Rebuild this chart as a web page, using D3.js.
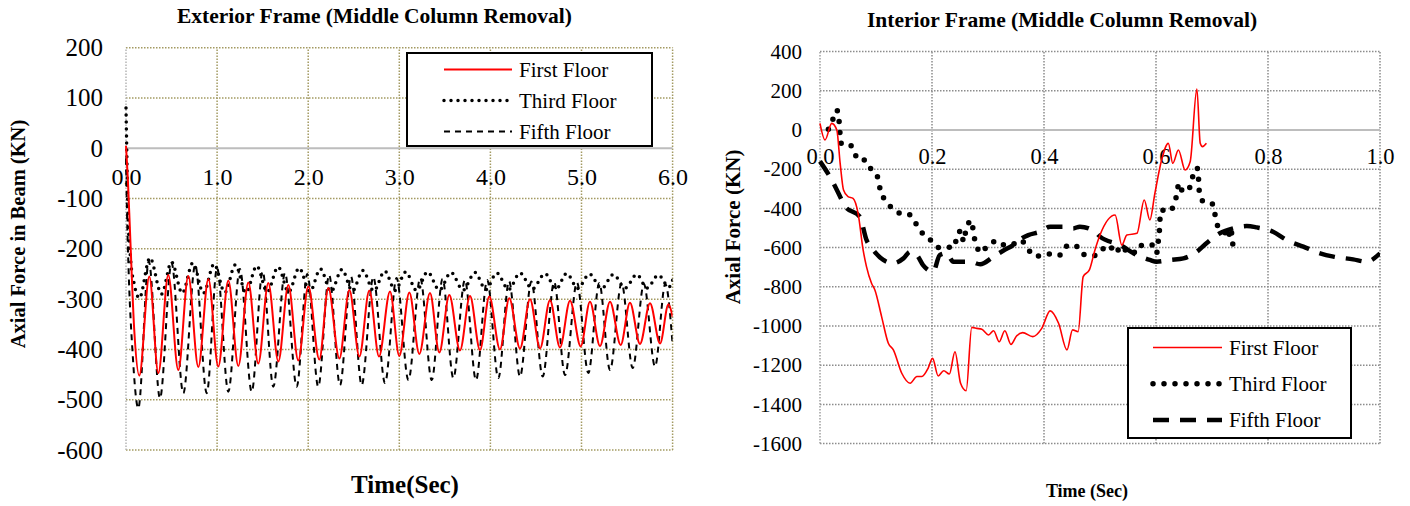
<!DOCTYPE html>
<html>
<head>
<meta charset="utf-8">
<script src="https://cdn.jsdelivr.net/npm/d3@7"></script>
<style>
  body { margin: 0; background: #fff; }
  svg text { font-family: "Liberation Serif", "Times New Roman", serif; fill: #000; }
</style>
</head>
<body>
<svg id="chart" width="1410" height="506"></svg>
<script>
// ---- left chart: exterior frame, [time (s), axial force (kN)] peaks and troughs ----
const extFirst = [[0,5],[0.02,-60],[0.045,-170],[0.09,-360],[0.146,-452],[0.256,-255],[0.355,-447],[0.464,-252],[0.574,-441],[0.684,-254],[0.794,-435],[0.904,-260],[1.013,-434],[1.123,-263],[1.233,-433],[1.343,-267],[1.452,-428],[1.562,-268],[1.672,-424],[1.782,-272],[1.891,-422],[2.001,-275],[2.122,-420],[2.221,-278],[2.342,-418],[2.452,-282],[2.562,-414],[2.671,-283],[2.777,-414],[2.898,-285],[3.0,-413],[3.11,-287],[3.22,-409],[3.337,-288],[3.439,-406],[3.549,-292],[3.666,-402],[3.776,-294],[3.886,-401],[3.988,-295],[4.105,-400],[4.207,-298],[4.325,-398],[4.435,-300],[4.545,-398],[4.654,-302],[4.764,-396],[4.874,-303],[4.991,-394],[5.093,-305],[5.203,-393],[5.313,-305],[5.43,-391],[5.532,-307],[5.642,-389],[5.752,-308],[5.862,-388],[5.955,-310],[6.0,-335]];

const extThird = [[0,80],[0.008,0],[0.02,-120],[0.05,-220],[0.09,-270],[0.146,-298],[0.263,-218],[0.39,-290],[0.5,-226],[0.617,-288],[0.734,-228],[0.85,-288],[0.967,-230],[1.085,-287],[1.2,-232],[1.318,-287],[1.435,-234],[1.55,-286],[1.67,-236],[1.785,-286],[1.9,-238],[2.018,-285],[2.135,-240],[2.25,-285],[2.37,-241],[2.485,-284],[2.6,-243],[2.72,-284],[2.84,-244],[2.955,-283],[3.07,-246],[3.19,-283],[3.31,-246],[3.44,-282],[3.567,-247],[3.7,-282],[3.83,-247],[3.95,-281],[4.07,-248],[4.2,-281],[4.325,-248],[4.46,-280],[4.6,-249],[4.72,-280],[4.837,-249],[4.96,-279],[5.086,-250],[5.22,-279],[5.35,-251],[5.48,-278],[5.606,-251],[5.72,-278],[5.843,-252],[5.96,-276],[6.0,-262]];

const extFifth = [[0,-20],[0.01,-120],[0.03,-250],[0.07,-400],[0.135,-517],[0.25,-225],[0.373,-497],[0.5,-228],[0.629,-487],[0.76,-232],[0.886,-487],[1.0,-238],[1.123,-484],[1.25,-240],[1.38,-484],[1.5,-245],[1.617,-474],[1.745,-248],[1.874,-474],[1.99,-250],[2.11,-474],[2.23,-252],[2.349,-471],[2.47,-255],[2.587,-471],[2.715,-256],[2.843,-467],[2.97,-258],[3.1,-461],[3.23,-258],[3.356,-461],[3.475,-260],[3.593,-457],[3.72,-262],[3.842,-461],[3.965,-262],[4.087,-457],[4.205,-264],[4.325,-454],[4.45,-265],[4.574,-454],[4.7,-266],[4.819,-451],[4.95,-267],[5.075,-447],[5.195,-268],[5.313,-441],[5.44,-268],[5.562,-437],[5.685,-270],[5.807,-434],[5.92,-270],[6.0,-390]];

const extXTicks = [0, 1, 2, 3, 4, 5, 6];
const extYTicks = [-600, -500, -400, -300, -200, -100, 0, 100, 200];

// ---- right chart: interior frame ----
const intFirst = [[0.0,34],[0.009,-51],[0.021,34],[0.03,0],[0.036,-170],[0.042,-306],[0.05,-340],[0.059,-349],[0.068,-425],[0.077,-612],[0.083,-697],[0.092,-782],[0.098,-816],[0.11,-952],[0.122,-1088],[0.131,-1122],[0.146,-1241],[0.161,-1292],[0.173,-1258],[0.182,-1258],[0.193,-1216],[0.201,-1165],[0.211,-1255],[0.221,-1228],[0.231,-1245],[0.241,-1131],[0.251,-1292],[0.261,-1330],[0.271,-1007],[0.28,-1012],[0.289,-1017],[0.301,-1046],[0.31,-1024],[0.32,-1080],[0.33,-1024],[0.341,-1094],[0.351,-1051],[0.362,-1034],[0.38,-1054],[0.396,-1012],[0.411,-923],[0.426,-986],[0.441,-1122],[0.451,-1020],[0.461,-1029],[0.47,-748],[0.481,-714],[0.491,-612],[0.5,-536],[0.527,-434],[0.539,-587],[0.548,-536],[0.566,-527],[0.579,-357],[0.589,-459],[0.598,-323],[0.61,-153],[0.622,-68],[0.63,-170],[0.64,-102],[0.652,-204],[0.661,-162],[0.673,209],[0.679,-68],[0.683,-85],[0.69,-68]];

const intThird = [[0.015,4],[0.023,55],[0.03,102],[0.034,47],[0.0375,-68],[0.05,-68],[0.06,-102],[0.068,-153],[0.08,-153],[0.092,-204],[0.104,-247],[0.107,-298],[0.114,-349],[0.125,-388],[0.14,-422],[0.158,-429],[0.17,-473],[0.182,-524],[0.196,-558],[0.21,-599],[0.226,-599],[0.241,-595],[0.244,-536],[0.253,-514],[0.256,-570],[0.262,-493],[0.271,-463],[0.274,-527],[0.279,-582],[0.286,-626],[0.301,-587],[0.316,-565],[0.33,-587],[0.345,-582],[0.357,-561],[0.384,-643],[0.402,-638],[0.417,-629],[0.429,-638],[0.441,-592],[0.455,-587],[0.469,-633],[0.48,-640],[0.492,-640],[0.503,-612],[0.515,-587],[0.529,-629],[0.536,-592],[0.545,-612],[0.558,-633],[0.57,-587],[0.583,-595],[0.594,-587],[0.601,-629],[0.604,-570],[0.606,-519],[0.607,-459],[0.61,-408],[0.619,-417],[0.632,-388],[0.637,-328],[0.641,-272],[0.648,-315],[0.658,-306],[0.664,-255],[0.67,-196],[0.674,-196],[0.676,-252],[0.677,-306],[0.683,-361],[0.699,-371],[0.705,-425],[0.708,-480],[0.721,-510],[0.729,-553],[0.733,-502],[0.738,-612]];

const intFifth = [[0,-160],[0.021,-255],[0.036,-340],[0.045,-391],[0.071,-442],[0.083,-561],[0.095,-612],[0.113,-663],[0.131,-680],[0.149,-655],[0.161,-621],[0.173,-638],[0.184,-689],[0.202,-723],[0.214,-638],[0.226,-629],[0.238,-672],[0.268,-672],[0.286,-685],[0.31,-646],[0.327,-616],[0.345,-587],[0.36,-553],[0.372,-536],[0.393,-519],[0.411,-493],[0.434,-493],[0.452,-502],[0.464,-493],[0.491,-519],[0.5,-544],[0.536,-587],[0.566,-638],[0.589,-663],[0.601,-672],[0.625,-663],[0.649,-655],[0.673,-621],[0.69,-578],[0.714,-527],[0.738,-502],[0.762,-490],[0.78,-497],[0.809,-519],[0.833,-561],[0.863,-595],[0.893,-629],[0.917,-646],[0.952,-660],[0.976,-672],[1.0,-629]];

const intXTicks = [0, 0.2, 0.4, 0.6, 0.8, 1.0];
const intYTicks = [-1600, -1400, -1200, -1000, -800, -600, -400, -200, 0, 200, 400];

const seriesNames = ['First Floor', 'Third Floor', 'Fifth Floor'];

const svg = d3.select('#chart');

function drawPanel(cfg) {
  const x = d3.scaleLinear().domain(cfg.xDomain).range(cfg.xRange);
  const y = d3.scaleLinear().domain(cfg.yDomain).range(cfg.yRange);
  const g = svg.append('g');

  // grid
  g.append('g').selectAll('line')
    .data(cfg.xTicks.slice(1))
    .join('line')
    .attr('x1', d => x(d)).attr('x2', d => x(d))
    .attr('y1', y(cfg.yDomain[0])).attr('y2', y(cfg.yDomain[1]))
    .attr('stroke', cfg.gridColor).attr('stroke-width', 1.5).attr('stroke-dasharray', '1.5 1.5');
  g.append('g').selectAll('line')
    .data(cfg.yTicks.filter(d => d !== 0))
    .join('line')
    .attr('x1', x(cfg.xDomain[0])).attr('x2', x(cfg.xDomain[1]))
    .attr('y1', d => y(d)).attr('y2', d => y(d))
    .attr('stroke', cfg.gridColor).attr('stroke-width', 1.5).attr('stroke-dasharray', '1.5 1.5');
  // left edge
  g.append('line')
    .attr('x1', x(cfg.xDomain[0])).attr('x2', x(cfg.xDomain[0]))
    .attr('y1', y(cfg.yDomain[0])).attr('y2', y(cfg.yDomain[1]))
    .attr('stroke', cfg.edgeColor).attr('stroke-width', 1.5).attr('stroke-dasharray', '1.5 1.5');
  // zero line
  g.append('line')
    .attr('x1', x(cfg.xDomain[0])).attr('x2', x(cfg.xDomain[1]))
    .attr('y1', y(0)).attr('y2', y(0))
    .attr('stroke', '#bdbdbd').attr('stroke-width', 2);

  // y axis labels
  const yAxis = g.append('g')
    .attr('transform', `translate(${cfg.yLabelX},0)`)
    .call(d3.axisLeft(y).tickValues(cfg.yTicks).tickSize(0).tickPadding(0).tickFormat(d => String(d)));
  yAxis.select('.domain').remove();
  yAxis.selectAll('text').attr('font-size', cfg.yTickSize).attr('font-family', 'Liberation Serif').attr('fill', '#000');

  // x axis labels (sit under the zero line)
  const xAxis = g.append('g')
    .attr('transform', `translate(0,${y(0) + cfg.xLabelDy})`)
    .call(d3.axisBottom(x).tickValues(cfg.xTicks).tickSize(0).tickPadding(0).tickFormat(d => d.toFixed(1)));
  xAxis.select('.domain').remove();
  xAxis.selectAll('text').attr('font-size', cfg.xTickSize).attr('font-family', 'Liberation Serif').attr('fill', '#000');

  // series
  const line = d3.line().x(d => x(d[0])).y(d => y(d[1])).curve(d3.curveMonotoneX);
  const clipId = 'clip' + cfg.id;
  svg.append('clipPath').attr('id', clipId).append('rect')
    .attr('x', x(cfg.xDomain[0]) - 4).attr('y', y(cfg.yDomain[1]))
    .attr('width', x(cfg.xDomain[1]) - x(cfg.xDomain[0]) + 4)
    .attr('height', y(cfg.yDomain[0]) - y(cfg.yDomain[1]));
  const lines = g.append('g').attr('clip-path', `url(#${clipId})`);
  // draw fifth, third, first so red is on top
  [2, 1, 0].forEach(i => {
    const st = cfg.styles[i];
    lines.append('path')
      .datum(cfg.series[i])
      .attr('fill', 'none')
      .attr('stroke', st.color)
      .attr('stroke-width', st.width)
      .attr('stroke-dasharray', st.dash)
      .attr('stroke-linecap', st.cap)
      .attr('d', line);
  });

  // titles
  g.append('text').text(cfg.title)
    .attr('x', cfg.titleX).attr('y', cfg.titleY)
    .attr('font-weight', 'bold').attr('font-size', cfg.titleSize);
  g.append('text').text(cfg.xTitle)
    .attr('x', cfg.xTitleX).attr('y', cfg.xTitleY)
    .attr('text-anchor', 'middle').attr('font-weight', 'bold').attr('font-size', cfg.xTitleSize);
  g.append('text').text(cfg.yTitle)
    .attr('transform', `translate(${cfg.yTitleX},${cfg.yTitleY}) rotate(-90)`)
    .attr('text-anchor', 'middle').attr('font-weight', 'bold').attr('font-size', cfg.yTitleSize);

  // legend
  const lg = g.append('g');
  lg.append('rect')
    .attr('x', cfg.legend.x).attr('y', cfg.legend.y)
    .attr('width', cfg.legend.w).attr('height', cfg.legend.h)
    .attr('fill', '#fff').attr('stroke', '#000').attr('stroke-width', 2);
  seriesNames.forEach((name, i) => {
    const st = cfg.styles[i];
    const ly = cfg.legend.y + cfg.legend.first + i * cfg.legend.step;
    lg.append('line')
      .attr('x1', cfg.legend.lx1).attr('x2', cfg.legend.lx2)
      .attr('y1', ly).attr('y2', ly)
      .attr('stroke', st.color).attr('stroke-width', st.width)
      .attr('stroke-dasharray', st.dash).attr('stroke-linecap', st.cap);
    lg.append('text').text(name)
      .attr('x', cfg.legend.tx).attr('y', ly + 7)
      .attr('font-size', 21);
  });
}

drawPanel({
  id: 'ext',
  xDomain: [0, 6], xRange: [126, 672.6],
  yDomain: [-600, 200], yRange: [450, 47.7],
  xTicks: extXTicks, yTicks: extYTicks,
  gridColor: '#a39a62', edgeColor: '#b5b5b5',
  yLabelX: 103, yTickSize: 25, xLabelDy: 20, xTickSize: 24,
  series: [extFirst, extThird, extFifth],
  styles: [
    { color: '#ff0000', width: 2, dash: null, cap: 'butt' },
    { color: '#000', width: 3.5, dash: '0 7', cap: 'round' },
    { color: '#000', width: 2, dash: '6 5', cap: 'butt' }
  ],
  title: 'Exterior Frame (Middle Column Removal)', titleX: 177, titleY: 23, titleSize: 21.5,
  xTitle: 'Time(Sec)', xTitleX: 405, xTitleY: 493, xTitleSize: 25,
  yTitle: 'Axial Force in Beam (KN)', yTitleX: 25, yTitleY: 234, yTitleSize: 20.5,
  legend: { x: 407, y: 53, w: 245, h: 93, first: 16.5, step: 31, lx1: 444, lx2: 512, tx: 519 }
});

drawPanel({
  id: 'int',
  xDomain: [0, 1], xRange: [820, 1380],
  yDomain: [-1600, 400], yRange: [443.6, 51.6],
  xTicks: intXTicks, yTicks: intYTicks,
  gridColor: '#8c8c8c', edgeColor: '#a0a0a0',
  yLabelX: 802, yTickSize: 21, xLabelDy: 18, xTickSize: 22.5,
  series: [intFirst, intThird, intFifth],
  styles: [
    { color: '#ff0000', width: 1.6, dash: null, cap: 'butt' },
    { color: '#000', width: 5.5, dash: '0 11', cap: 'round' },
    { color: '#000', width: 4.5, dash: '16 11', cap: 'butt' }
  ],
  title: 'Interior Frame (Middle Column Removal)', titleX: 867, titleY: 26.5, titleSize: 21.5,
  xTitle: 'Time (Sec)', xTitleX: 1087, xTitleY: 497, xTitleSize: 18,
  yTitle: 'Axial Force (KN)', yTitleX: 740, yTitleY: 227, yTitleSize: 21,
  legend: { x: 1128, y: 328, w: 223, h: 110, first: 19.5, step: 36.3, lx1: 1153, lx2: 1222, tx: 1229 }
});
</script>
</body>
</html>
